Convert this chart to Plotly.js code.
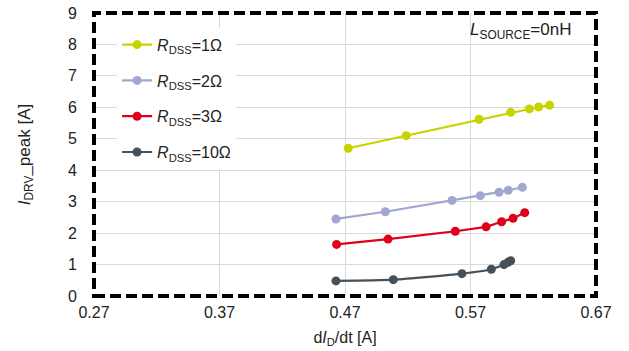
<!DOCTYPE html>
<html>
<head>
<meta charset="utf-8">
<script src="https://cdn.plot.ly/plotly-3.0.1.min.js"></script>
<style>
  html, body { margin: 0; padding: 0; background: #fff; }
  #chart { width: 629px; height: 351px; }
</style>
</head>
<body>
<div id="chart"></div>
<script>
// dI_D/dt values and peak driver currents for each R_DSS setting
const seriesNames = [
  '<i>R</i><sub>DSS</sub>=1Ω',
  '<i>R</i><sub>DSS</sub>=2Ω',
  '<i>R</i><sub>DSS</sub>=3Ω',
  '<i>R</i><sub>DSS</sub>=10Ω'
];

const didt_r1  = [0.4726, 0.5188, 0.5768, 0.6020, 0.6169, 0.6243, 0.6330];
const ipeak_r1 = [4.70, 5.10, 5.62, 5.84, 5.95, 6.01, 6.07];

const didt_r2  = [0.4628, 0.5021, 0.5553, 0.5778, 0.5927, 0.6001, 0.6113];
const ipeak_r2 = [2.45, 2.68, 3.04, 3.19, 3.30, 3.36, 3.46];

const didt_r3  = [0.4633, 0.5043, 0.5579, 0.5824, 0.5948, 0.6039, 0.6132];
const ipeak_r3 = [1.64, 1.81, 2.06, 2.20, 2.36, 2.47, 2.65];

const didt_r10  = [0.4628, 0.5085, 0.5632, 0.5866, 0.5967, 0.5999, 0.6020];
const ipeak_r10 = [0.48, 0.52, 0.71, 0.85, 1.00, 1.07, 1.12];

const xTicks = [0.27, 0.37, 0.47, 0.57, 0.67];
const xTickText = ['0.27', '0.37', '0.47', '0.57', '0.67'];
const yTicks = [0, 1, 2, 3, 4, 5, 6, 7, 8, 9];

const colors = ['#c9d300', '#a2a6d2', '#e1001b', '#455058'];
const FONT = '"Liberation Sans", Arial, sans-serif';

const xs = [didt_r1, didt_r2, didt_r3, didt_r10];
const ys = [ipeak_r1, ipeak_r2, ipeak_r3, ipeak_r10];

const traces = xs.map((x, i) => ({
  type: 'scatter',
  mode: 'lines+markers',
  x: x,
  y: ys[i],
  name: seriesNames[i],
  legendgroup: 'g' + i,
  line: { color: colors[i], width: 2.2, shape: i === 3 ? 'spline' : 'linear', smoothing: 0.6 },
  marker: { color: colors[i], size: 9 }
}));

const layout = {
  width: 629,
  height: 351,
  margin: { l: 94, r: 33, t: 13, b: 55 },
  paper_bgcolor: '#fff',
  plot_bgcolor: '#fff',
  font: { family: FONT, size: 16, color: '#222' },
  showlegend: true,
  legend: {
    x: 0.046, y: 0.948, xanchor: 'left', yanchor: 'top',
    bgcolor: '#fff',
    borderwidth: 0,
    tracegroupgap: 12,
    font: { family: FONT, size: 16, color: '#222' }
  },
  xaxis: {
    range: [0.27, 0.67],
    tickvals: xTicks,
    ticktext: xTickText,
    showgrid: true,
    gridcolor: '#d9d9d9',
    gridwidth: 1,
    zeroline: false,
    showline: false,
    ticks: '',
    ticklabelstandoff: 5,
    tickfont: { family: FONT, size: 16, color: '#222' },
    title: { text: 'd<i>I</i><sub>D</sub>/dt [A]', font: { family: FONT, size: 16, color: '#222' }, standoff: 11 }
  },
  yaxis: {
    range: [0, 9],
    tickvals: yTicks,
    showgrid: true,
    gridcolor: '#d9d9d9',
    gridwidth: 1,
    zeroline: false,
    showline: false,
    ticks: '',
    ticklabelstandoff: 16,
    tickfont: { family: FONT, size: 16, color: '#222' },
    title: { text: '<i>I</i><sub>DRV</sub>_peak [A]', font: { family: FONT, size: 17, color: '#222' }, standoff: 33 }
  },
  shapes: [{
    type: 'rect', xref: 'paper', yref: 'paper',
    x0: 0, x1: 1, y0: 0, y1: 1,
    line: { color: '#000', width: 4, dash: '11px,5px' },
    fillcolor: 'rgba(0,0,0,0)',
    layer: 'above'
  }],
  annotations: [{
    xref: 'paper', yref: 'paper',
    x: 0.955, y: 0.935, xanchor: 'right', yanchor: 'middle',
    text: '<i>L</i><sub>SOURCE</sub>=0nH',
    showarrow: false,
    font: { family: FONT, size: 17, color: '#222' }
  }]
};

Plotly.newPlot('chart', traces, layout, { displayModeBar: false, staticPlot: true });
</script>
</body>
</html>
